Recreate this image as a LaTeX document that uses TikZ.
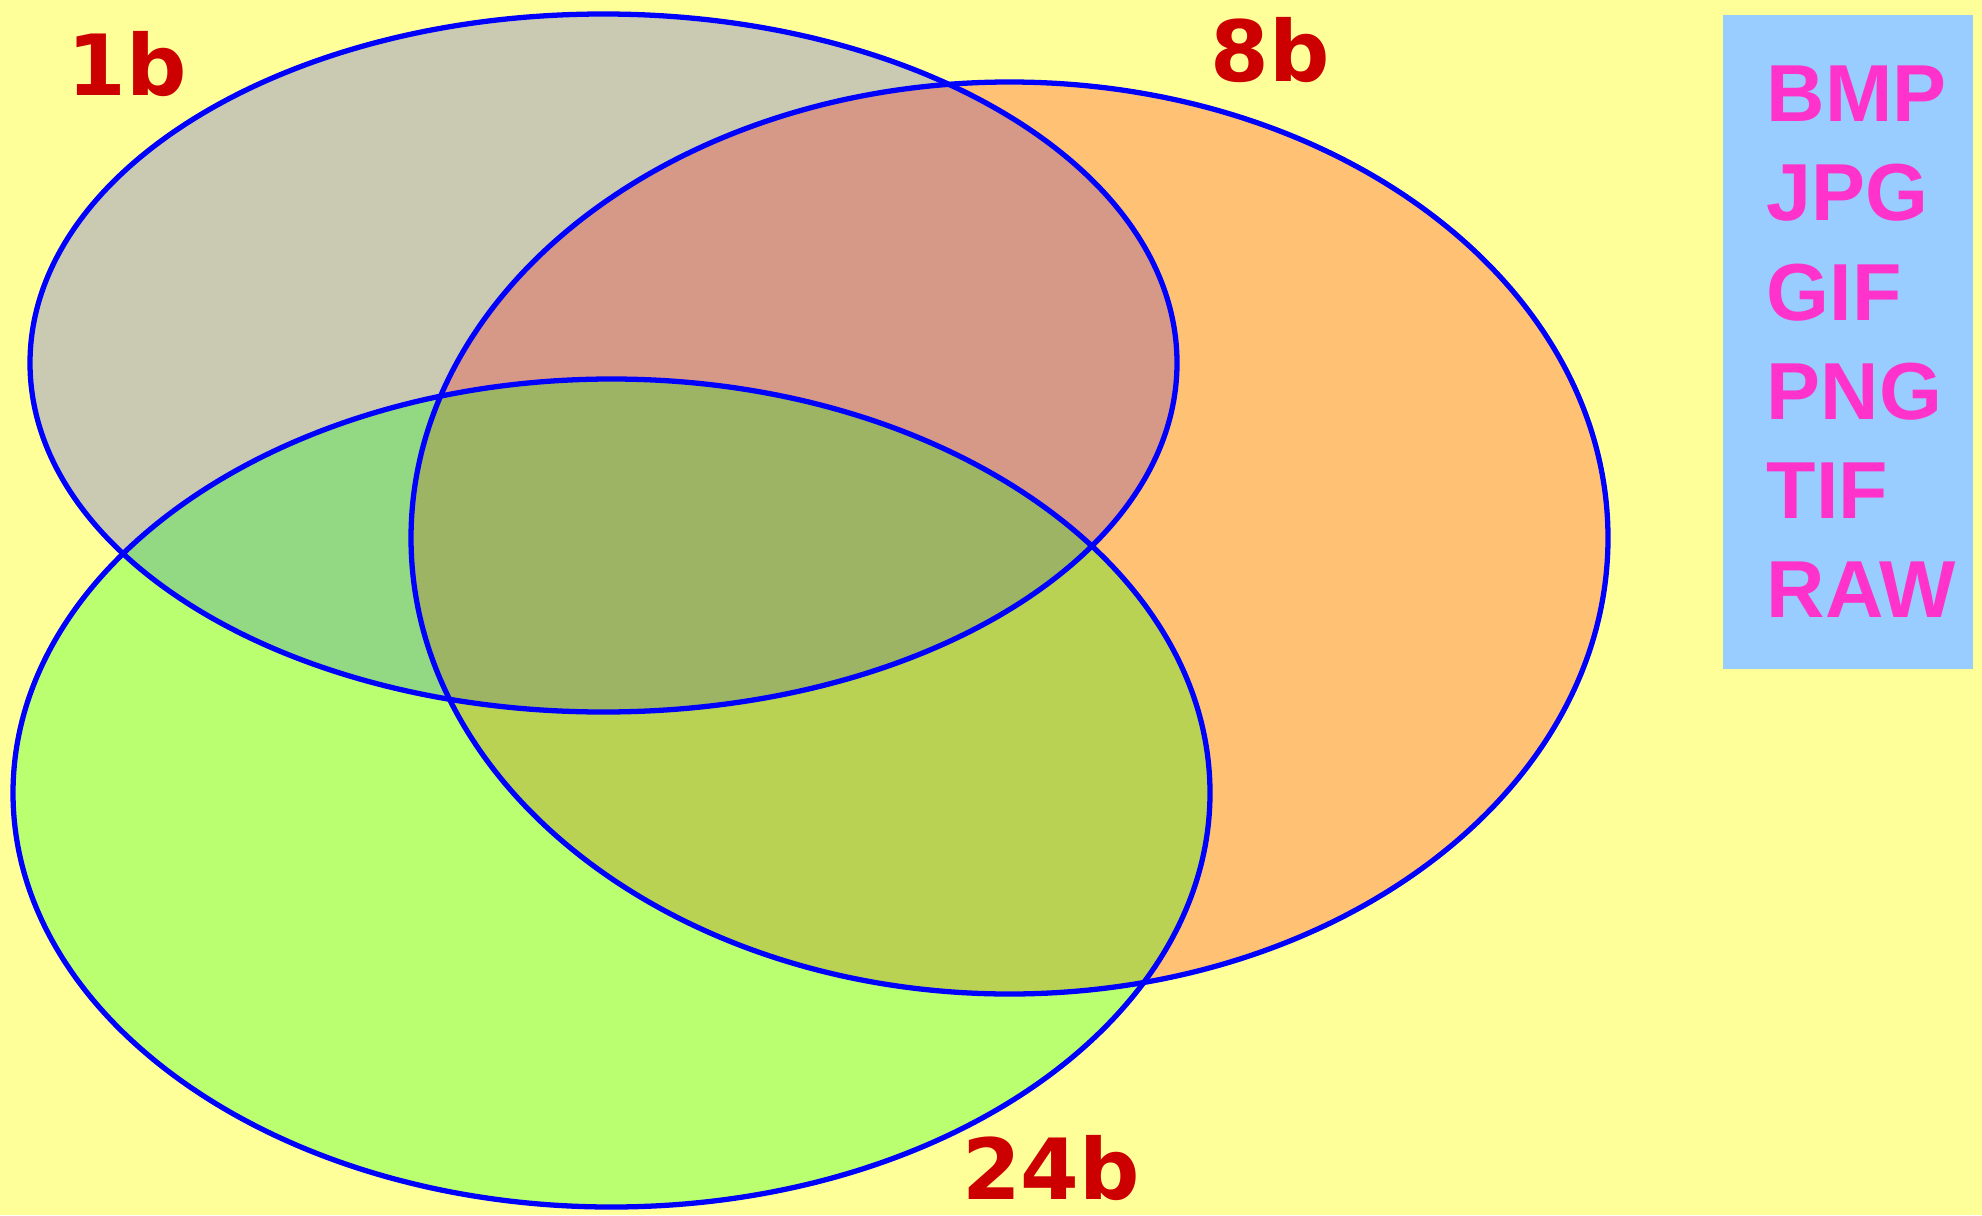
\documentclass[tikz,border=0pt]{standalone}
\usepackage{fontspec}
\setmainfont{Liberation Sans}
\newfontfamily\bitfont{DejaVu Sans}
\definecolor{bgyellow}{HTML}{FFFF99}
\definecolor{boxblue}{HTML}{99CCFF}
\definecolor{fmtpink}{HTML}{FF33CC}
\definecolor{bitred}{HTML}{CC0000}
\definecolor{ringblue}{HTML}{0000FF}

\begin{document}
\begin{tikzpicture}[x=0.01cm, y=-0.01cm,
  ring/.style={draw=ringblue, line width=1.5pt},
  bitlabel/.style={font=\bitfont\bfseries\fontsize{24}{28}\selectfont, text=bitred, inner sep=0pt},
  fmtlabel/.style={font=\bfseries\fontsize{23}{28}\selectfont, text=fmtpink, anchor=base west, inner sep=0pt}]
  \useasboundingbox[fill=bgyellow] (0,0) rectangle (1982,1215);
  % --- fills of the three sets ---
  \fill[blue!80!white, fill opacity=0.26] (603.5,363) ellipse [x radius=573.5, y radius=349];
  \fill[red, fill opacity=0.24] (1009.5,538) ellipse [x radius=598.5, y radius=456];
  \fill[green, fill opacity=0.27] (611.5,793) ellipse [x radius=598.5, y radius=414];
  % --- outlines ---
  \draw[ring] (603.5,363) ellipse [x radius=573.5, y radius=349];
  \draw[ring] (1009.5,538) ellipse [x radius=598.5, y radius=456];
  \draw[ring] (611.5,793) ellipse [x radius=598.5, y radius=414];
  % --- bit depth labels ---
  \node[bitlabel] (onebit) at (127,64) {1b};
  \node[bitlabel] (eightbit) at (1270,50) {8b};
  \node[bitlabel] (twentyfourbit) at (1051,1168) {24b};
  % --- file formats ---
  \fill[boxblue] (1723,15) rectangle (1973,669);
  \node[fmtlabel] (bmp) at (1766,121) {BMP};
  \node[fmtlabel] (jpg) at (1766,220) {JPG};
  \node[fmtlabel] (gif) at (1766,320) {GIF};
  \node[fmtlabel] (png) at (1766,419) {PNG};
  \node[fmtlabel] (tif) at (1766,518) {TIF};
  \node[fmtlabel] (raw) at (1766,617) {RAW};
\end{tikzpicture}
\end{document}
